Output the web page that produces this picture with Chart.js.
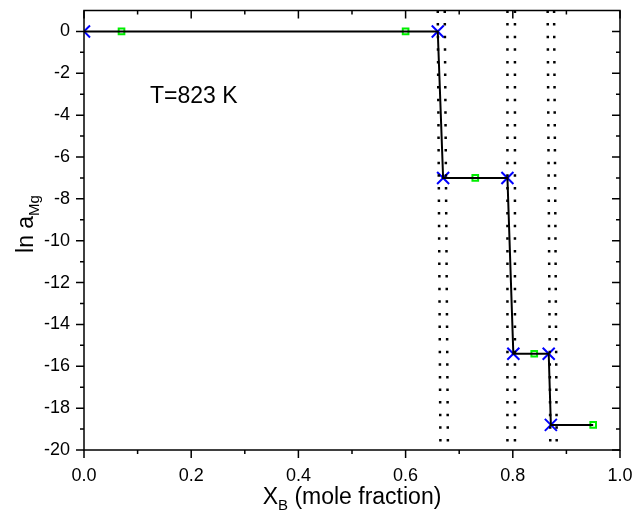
<!DOCTYPE html>
<html>
<head>
<meta charset="utf-8">
<script src="https://cdn.jsdelivr.net/npm/chart.js@4/dist/chart.umd.min.js"></script>
<style>
  html, body { margin: 0; padding: 0; background: #fff; }
  #wrap { width: 633px; height: 512px; }
</style>
</head>
<body>
<div id="wrap"><canvas id="myChart"></canvas></div>
<script>
// corners of the step curve (blue crosses)
const stepX = [0, 0.66, 0.67, 0.79, 0.801, 0.867, 0.871];
const stepY = [0, 0, -7.0, -7.0, -15.4, -15.4, -18.8];
// two-phase field midpoints (green squares)
const midX = [0.07, 0.60, 0.73, 0.84, 0.95];
const midY = [0, 0, -7.0, -15.4, -18.8];
// dotted phase boundaries, x at top and at bottom of the frame
const boundTop = [0.660, 0.673, 0.790, 0.804, 0.865, 0.877];
const boundBottom = [0.665, 0.679, 0.790, 0.804, 0.870, 0.882];
const yRange = [1, -20];

const FONT = "'Liberation Sans', Arial, sans-serif";

// the solid curve runs through every cross and square, in x order
const curve = stepX.map((x, i) => ({ x: x, y: stepY[i] }))
  .concat(midX.map((x, i) => ({ x: x, y: midY[i] })))
  .sort((a, b) => a.x - b.x);

const datasets = [];
boundTop.forEach((xt, i) => {
  datasets.push({
    data: [{ x: xt, y: yRange[0] }, { x: boundBottom[i], y: yRange[1] }],
    showLine: true,
    borderColor: '#000',
    borderWidth: 2.5,
    borderDash: [2.5, 10.1],
    pointRadius: 0,
  });
});
datasets.push({
  data: curve,
  showLine: true,
  borderColor: '#000',
  borderWidth: 2,
  pointRadius: 0,
});
datasets.push({
  data: midX.map((x, i) => ({ x: x, y: midY[i] })),
  showLine: false,
  pointStyle: 'rect',
  pointRadius: 4,
  pointBorderWidth: 2,
  pointBorderColor: '#00ee00',
  pointBackgroundColor: '#fff',
});
datasets.push({
  data: stepX.map((x, i) => ({ x: x, y: stepY[i] })),
  showLine: false,
  pointStyle: 'crossRot',
  pointRadius: 8.5,
  pointBorderWidth: 2,
  pointBorderColor: '#0000ff',
});

// frame, mirrored ticks, axis titles and the temperature note
const decor = {
  id: 'decor',
  afterDraw(chart) {
    const ctx = chart.ctx;
    const a = chart.chartArea;
    const xs = chart.scales.x, ys = chart.scales.y;
    ctx.save();
    ctx.strokeStyle = '#000';
    ctx.lineWidth = 1.5;
    ctx.strokeRect(a.left, a.top, a.right - a.left, a.bottom - a.top);
    ctx.beginPath();
    xs.ticks.forEach(t => {
      const px = xs.getPixelForValue(t.value);
      const major = t.label !== '';
      const len = major ? 8 : 4;
      ctx.moveTo(px, a.bottom); ctx.lineTo(px, a.bottom + len);
      ctx.moveTo(px, a.top); ctx.lineTo(px, a.top + len);
    });
    ys.ticks.forEach(t => {
      if (t.value > 0) return;
      const py = ys.getPixelForValue(t.value);
      const major = t.label !== '';
      const len = major ? 8 : 4;
      ctx.moveTo(a.left, py); ctx.lineTo(a.left - len, py);
      ctx.moveTo(a.right, py); ctx.lineTo(a.right - len, py);
    });
    ctx.stroke();

    ctx.fillStyle = '#000';
    ctx.textBaseline = 'alphabetic';
    // x title: X_B (mole fraction)
    const big = '23px ' + FONT, small = '15px ' + FONT;
    ctx.font = big;
    const w1 = ctx.measureText('X').width;
    const w3 = ctx.measureText(' (mole fraction)').width;
    ctx.font = small;
    const w2 = ctx.measureText('B').width;
    const x0 = (a.left + a.right) / 2 - (w1 + w2 + w3) / 2;
    const yb = 504;
    ctx.font = big; ctx.fillText('X', x0, yb);
    ctx.font = small; ctx.fillText('B', x0 + w1, yb + 6);
    ctx.font = big; ctx.fillText(' (mole fraction)', x0 + w1 + w2, yb);

    // y title: ln a_Mg
    ctx.save();
    ctx.translate(33, 224);
    ctx.rotate(-Math.PI / 2);
    ctx.font = big;
    const v1 = ctx.measureText('ln a').width;
    ctx.font = small;
    const v2 = ctx.measureText('Mg').width;
    const s0 = -(v1 + v2) / 2;
    ctx.font = big; ctx.fillText('ln a', s0, 0);
    ctx.font = small; ctx.fillText('Mg', s0 + v1, 6);
    ctx.restore();

    // temperature note
    ctx.font = '23px ' + FONT;
    ctx.fillText('T=823 K', xs.getPixelForValue(0.123), ys.getPixelForValue(-3.4));
    ctx.restore();
  }
};

const ctx = document.getElementById('myChart').getContext('2d');
new Chart(ctx, {
  type: 'scatter',
  data: { datasets: datasets },
  options: {
    responsive: true,
    maintainAspectRatio: false,
    animation: false,
    layout: { padding: { top: 10, right: 13, left: 0, bottom: 0 } },
    plugins: { legend: { display: false }, tooltip: { enabled: false } },
    scales: {
      x: {
        type: 'linear',
        min: 0,
        max: 1,
        grid: { display: false, drawTicks: false, tickLength: 0 },
        border: { display: false },
        ticks: {
          stepSize: 0.1,
          autoSkip: false,
          maxRotation: 0,
          padding: 15,
          color: '#000',
          font: { family: FONT, size: 18 },
          callback: v => (Math.round(v * 10) % 2 === 0 ? v.toFixed(1) : ''),
        },
        afterFit: s => { s.height = 62; s.paddingLeft = 0; s.paddingRight = 0; },
      },
      y: {
        type: 'linear',
        min: -20,
        max: 1,
        grid: { display: false, drawTicks: false, tickLength: 0 },
        border: { display: false },
        ticks: {
          stepSize: 1,
          autoSkip: false,
          padding: 14,
          color: '#000',
          font: { family: FONT, size: 18 },
          callback: v => (v <= 0 && Math.round(v) % 2 === 0 ? String(Math.round(v)) : ''),
        },
        afterFit: s => { s.width = 84; s.paddingTop = 0; s.paddingBottom = 0; },
      },
    },
  },
  plugins: [decor],
});
</script>
</body>
</html>
